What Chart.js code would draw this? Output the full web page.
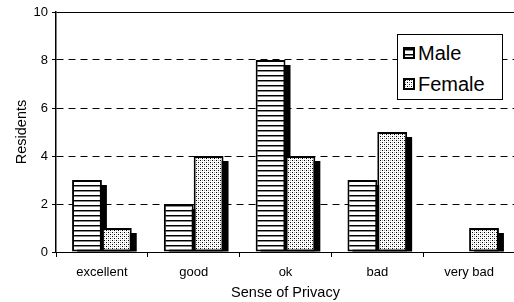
<!DOCTYPE html>
<html>
<head>
<meta charset="utf-8">
<script src="https://cdn.jsdelivr.net/npm/chart.js@4/dist/chart.umd.min.js"></script>
<style>
  html, body { margin: 0; padding: 0; background: #fff; overflow: hidden; }
  #wrap { position: relative; width: 520px; height: 302px; }
  #legend {
    position: absolute; left: 397px; top: 34px; width: 104px; height: 64px;
    border: 1px solid #000; background: #fff;
    font-family: "Liberation Sans", Arial, sans-serif; font-size: 20px; color: #000;
  }
  .item { position: absolute; left: 5px; display: flex; align-items: center; height: 22px; }
  .sw { width: 8px; height: 8px; border: 2px solid #000; margin-right: 3px; }
</style>
</head>
<body>
<div id="wrap">
  <canvas id="chart" width="520" height="302"></canvas>
  <div id="legend">
    <div class="item" style="top:7px"><span class="sw" id="sw-male"></span>Male</div>
    <div class="item" style="top:38px"><span class="sw" id="sw-female"></span>Female</div>
  </div>
</div>
<script>
// ── Data ──────────────────────────────────────────────────────────────────────
const categories = ["excellent", "good", "ok", "bad", "very bad"];
const maleValues = [3, 2, 8, 3, 0];
const femaleValues = [1, 4, 4, 5, 1];
const yTicks = [0, 2, 4, 6, 8, 10];

const FONT = "'Liberation Sans', Arial, sans-serif";

// ── Fill patterns ─────────────────────────────────────────────────────────────
function makeStripes() {
  const c = document.createElement("canvas");
  c.width = 4; c.height = 5;
  const g = c.getContext("2d");
  g.fillStyle = "#fff"; g.fillRect(0, 0, 4, 5);
  g.fillStyle = "#000"; g.fillRect(0, 0, 4, 1);
  g.fillStyle = "#888"; g.fillRect(0, 1, 4, 1);
  return c;
}

function makeDots() {
  const c = document.createElement("canvas");
  c.width = 4; c.height = 4;
  const g = c.getContext("2d");
  g.fillStyle = "#fff"; g.fillRect(0, 0, 4, 4);
  g.fillStyle = "#000"; g.fillRect(0, 0, 1, 1); g.fillRect(2, 2, 1, 1);
  g.fillStyle = "#aaa"; g.fillRect(2, 0, 1, 1); g.fillRect(0, 2, 1, 1);
  return c;
}

const stripeTile = makeStripes();
const dotTile = makeDots();
const ctx = document.getElementById("chart").getContext("2d");
const malePattern = ctx.createPattern(stripeTile, "repeat");
const femalePattern = ctx.createPattern(dotTile, "repeat");

document.getElementById("sw-male").style.background = `url(${stripeTile.toDataURL()})`;
document.getElementById("sw-female").style.background = `url(${dotTile.toDataURL()})`;

// ── Drop shadow behind each bar ───────────────────────────────────────────────
const barShadow = {
  id: "barShadow",
  beforeDatasetsDraw(chart) {
    const c = chart.ctx;
    c.save();
    c.fillStyle = "#000";
    chart.data.datasets.forEach((ds, i) => {
      chart.getDatasetMeta(i).data.forEach(bar => {
        const { x, y, base, width } = bar.getProps(["x", "y", "base", "width"], true);
        if (base - y < 1) return;
        c.fillRect(x - width / 2 + 5, y + 5, width, base - y - 5);
      });
    });
    c.restore();
  }
};

// ── Chart ─────────────────────────────────────────────────────────────────────
new Chart(ctx, {
  type: "bar",
  data: {
    labels: categories,
    datasets: [
      { label: "Male", data: maleValues, backgroundColor: malePattern,
        borderColor: "#000", borderWidth: 2, borderSkipped: false },
      { label: "Female", data: femaleValues, backgroundColor: femalePattern,
        borderColor: "#000", borderWidth: 2, borderSkipped: false },
    ],
  },
  options: {
    responsive: false,
    animation: false,
    events: [],
    layout: { padding: { top: 12, right: 5, left: 0, bottom: 0 } },
    datasets: { bar: { categoryPercentage: 0.65, barPercentage: 1.0 } },
    plugins: { legend: { display: false }, tooltip: { enabled: false } },
    scales: {
      x: {
        grid: { drawOnChartArea: false, drawTicks: true, tickLength: 5, color: "#000", offset: true },
        border: { color: "#000", width: 1 },
        ticks: { color: "#000", font: { family: FONT, size: 13 }, padding: 8, maxRotation: 0 },
        title: { display: true, text: "Sense of Privacy", color: "#000",
                 font: { family: FONT, size: 14.5 }, padding: { top: 0, bottom: 0 } },
        afterFit: s => { s.height = 50; },
      },
      y: {
        min: 0, max: 10,
        afterBuildTicks: s => { s.ticks = yTicks.map(v => ({ value: v })); },
        grid: {
          color: c => (c.tick && c.tick.value === 0) ? "rgba(0,0,0,0)" : "#000",
          lineWidth: 1, tickLength: 4, tickColor: "#000", tickWidth: 1,
        },
        border: {
          color: "#000", width: 1.5,
          dash: c => (c.tick && c.tick.value > 0 && c.tick.value < 10) ? [7, 5] : [],
        },
        ticks: { color: "#000", font: { family: FONT, size: 13 }, padding: 4 },
        title: { display: true, text: "Residents", color: "#000",
                 font: { family: FONT, size: 14.5 }, padding: { top: 13, bottom: 12 } },
        afterFit: s => { s.width = 56; },
      },
    },
  },
  plugins: [barShadow],
});
</script>
</body>
</html>
